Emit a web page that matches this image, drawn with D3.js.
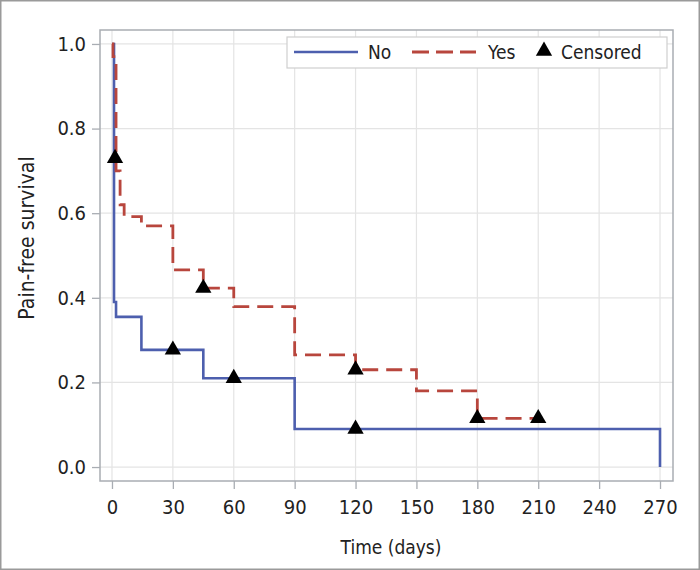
<!DOCTYPE html>
<html>
<head>
<meta charset="utf-8">
<script src="https://cdn.jsdelivr.net/npm/d3@7"></script>
<style>
  body { margin: 0; background: #fff; }
  svg text { font-family: "DejaVu Sans Condensed", "Liberation Sans Narrow", sans-serif; fill: #222; }
</style>
</head>
<body>
<svg id="chart"></svg>
<script>
// survival steps: value holds from time[i] until time[i+1]
const noTimes = [0, 1, 2, 14.5, 45, 90, 270];
const noSurv  = [1.0, 0.39, 0.355, 0.277, 0.21, 0.09, 0.0];
const yesTimes = [0, 0.5, 2, 4, 6, 14.5, 30, 45, 60, 90, 120, 150, 180, 210];
const yesSurv  = [1.0, 0.97, 0.70, 0.62, 0.592, 0.57, 0.466, 0.423, 0.379, 0.265, 0.23, 0.18, 0.115, 0.115];

// censored marks
const censoredTimes = [1.5, 30, 45, 60, 120, 120, 180, 210];
const censoredSurv  = [0.73, 0.277, 0.423, 0.21, 0.09, 0.23, 0.115, 0.115];

const xTicks = [0, 30, 60, 90, 120, 150, 180, 210, 240, 270];
const yTicks = [0, 0.2, 0.4, 0.6, 0.8, 1.0];

const width = 700, height = 570;
const plot = { left: 100, right: 673, top: 30, bottom: 481 };

const svg = d3.select('#chart').attr('width', width).attr('height', height);

// outer border
svg.append('rect')
  .attr('x', 0.75).attr('y', 0.75)
  .attr('width', width - 1.5).attr('height', height - 1.5)
  .attr('fill', 'none').attr('stroke', '#9a9a9a').attr('stroke-width', 1.5);

const x = d3.scaleLinear().domain([-5.9, 276.4]).range([plot.left, plot.right]);
const y = d3.scaleLinear().domain([-0.033, 1.033]).range([plot.bottom, plot.top]);

// grid
svg.append('g').selectAll('line').data(xTicks).enter().append('line')
  .attr('x1', d => x(d)).attr('x2', d => x(d))
  .attr('y1', plot.top).attr('y2', plot.bottom)
  .attr('stroke', '#e4e4e4').attr('stroke-width', 1.2);
svg.append('g').selectAll('line').data(yTicks).enter().append('line')
  .attr('y1', d => y(d)).attr('y2', d => y(d))
  .attr('x1', plot.left).attr('x2', plot.right)
  .attr('stroke', '#e4e4e4').attr('stroke-width', 1.2);

// axes
const xAxis = svg.append('g')
  .attr('transform', `translate(0,${plot.bottom})`)
  .call(d3.axisBottom(x).tickValues(xTicks).tickSize(8).tickSizeOuter(0).tickPadding(11));
const yAxis = svg.append('g')
  .attr('transform', `translate(${plot.left},0)`)
  .call(d3.axisLeft(y).tickValues(yTicks).tickFormat(d3.format('.1f')).tickSize(8).tickSizeOuter(0).tickPadding(6));
[xAxis, yAxis].forEach(g => {
  g.select('.domain').remove();
  g.selectAll('line').attr('stroke', '#a9adb3').attr('stroke-width', 1.3);
  g.selectAll('text').attr('font-size', 20).attr('fill', '#222')
    .style('font-family', '"DejaVu Sans Condensed", "Liberation Sans Narrow", sans-serif');
});

// frame
svg.append('rect')
  .attr('x', plot.left).attr('y', plot.top)
  .attr('width', plot.right - plot.left).attr('height', plot.bottom - plot.top)
  .attr('fill', 'none').attr('stroke', '#a9adb3').attr('stroke-width', 1.5);

// step curves
function stepPoints(times, surv) {
  return times.map((t, i) => [t, surv[i]]);
}
const line = d3.line().x(d => x(d[0])).y(d => y(d[1])).curve(d3.curveStepAfter);

svg.append('path')
  .datum(stepPoints(noTimes, noSurv))
  .attr('d', line)
  .attr('fill', 'none').attr('stroke', '#4d5fae').attr('stroke-width', 2.6);

svg.append('path')
  .datum(stepPoints(yesTimes, yesSurv))
  .attr('d', line)
  .attr('fill', 'none').attr('stroke', '#b8463d').attr('stroke-width', 2.8)
  .attr('stroke-dasharray', '16,8');

// censored triangles
const tri = d3.symbol().type(d3.symbolTriangle).size(115);
svg.append('g').selectAll('path')
  .data(censoredTimes.map((t, i) => [t, censoredSurv[i]]))
  .enter().append('path')
  .attr('d', tri)
  .attr('transform', d => `translate(${x(d[0])},${y(d[1])})`)
  .attr('fill', '#000');

// axis titles
svg.append('text')
  .attr('x', 391).attr('y', 554)
  .attr('text-anchor', 'middle').attr('font-size', 19)
  .text('Time (days)');
svg.append('text')
  .attr('transform', `translate(34,238) rotate(-90)`)
  .attr('text-anchor', 'middle').attr('font-size', 21)
  .text('Pain-free survival');

// legend
const lg = svg.append('g');
lg.append('rect')
  .attr('x', 287).attr('y', 37).attr('width', 380).attr('height', 31)
  .attr('fill', '#fff').attr('stroke', '#cfcfcf').attr('stroke-width', 1.2);
lg.append('line').attr('x1', 294).attr('x2', 358).attr('y1', 52).attr('y2', 52)
  .attr('stroke', '#4d5fae').attr('stroke-width', 2.6);
lg.append('text').attr('x', 368).attr('y', 59).attr('font-size', 19).text('No');
lg.append('line').attr('x1', 412).attr('x2', 476).attr('y1', 52).attr('y2', 52)
  .attr('stroke', '#b8463d').attr('stroke-width', 2.8).attr('stroke-dasharray', '17,7');
lg.append('text').attr('x', 488).attr('y', 59).attr('font-size', 19).text('Yes');
lg.append('path').attr('d', tri).attr('transform', 'translate(544,51)').attr('fill', '#000');
lg.append('text').attr('x', 561).attr('y', 59).attr('font-size', 19).text('Censored');
</script>
</body>
</html>
